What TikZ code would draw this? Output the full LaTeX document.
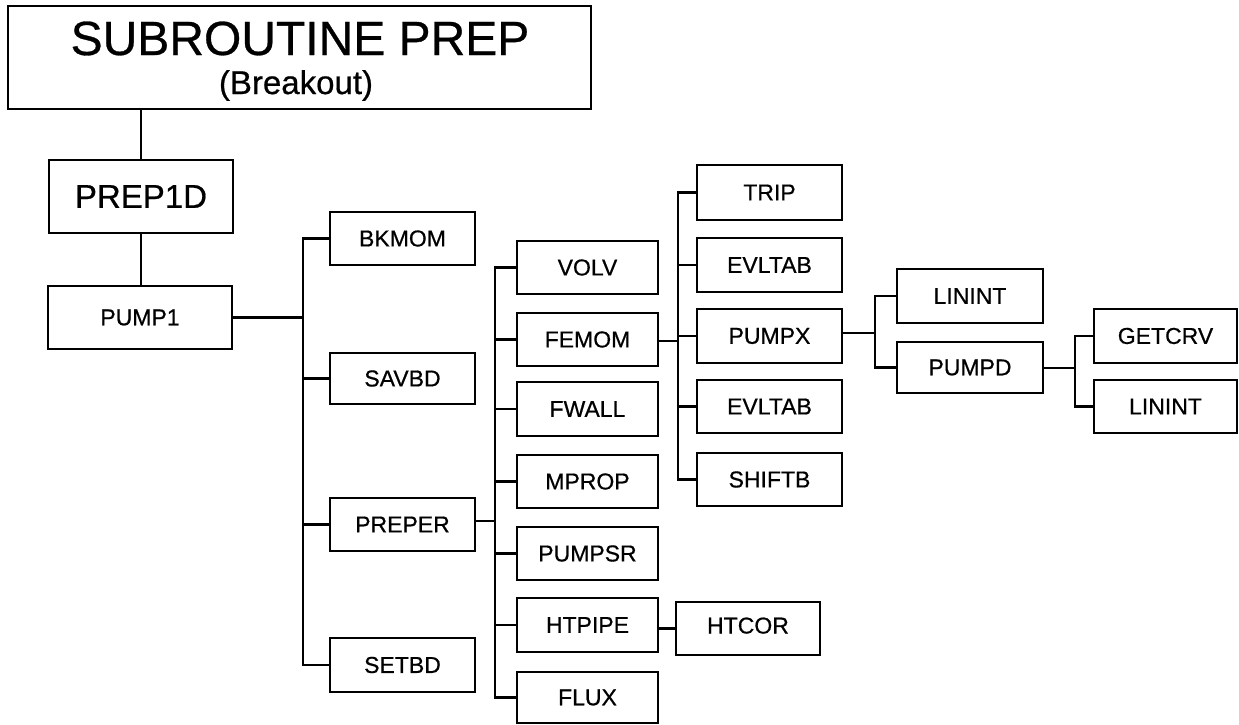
\documentclass[tikz,border=0pt]{standalone}
\usepackage{fontspec}
\setmainfont{Liberation Sans}[FakeBold=0.6]
\begin{document}
\begin{tikzpicture}[x=1pt,y=-1pt,
  box/.style={draw=black, line width=2.3pt, rectangle, inner sep=0pt, font=\fontsize{23}{26}\selectfont},
  conn/.style={draw=black, line width=2.3pt}]
\useasboundingbox[fill=white] (0,0) rectangle (1239,724);
\node[box, minimum width=583pt, minimum height=103pt] (title) at (299.5,57.5) {};
\node[anchor=base, inner sep=0pt, font=\fontsize{48}{50}\selectfont] (t1) at (300,55) {SUBROUTINE PREP};
\node[anchor=base, inner sep=0pt, font=\fontsize{33}{36}\selectfont] (t2) at (296,94) {(Breakout)};
\node[box, minimum width=184pt, minimum height=73pt, font=\fontsize{33}{36}\selectfont] (prep1d) at (141,196.5) {PREP1D};
\node[box, minimum width=184pt, minimum height=63pt] (pump1) at (140,317.5) {PUMP1};
% level 2
\node[box, minimum width=145pt, minimum height=53pt] (bkmom) at (402.5,238.5) {BKMOM};
\node[box, minimum width=145pt, minimum height=51pt] (savbd) at (402.5,378.5) {SAVBD};
\node[box, minimum width=145pt, minimum height=53pt] (preper) at (402.5,524.5) {PREPER};
\node[box, minimum width=145pt, minimum height=54pt] (setbd) at (402.5,665) {SETBD};
% level 3
\node[box, minimum width=141pt, minimum height=53pt] (volv) at (587.5,267.5) {VOLV};
\node[box, minimum width=141pt, minimum height=53pt] (femom) at (587.5,339.5) {FEMOM};
\node[box, minimum width=141pt, minimum height=54pt] (fwall) at (587.5,409) {FWALL};
\node[box, minimum width=141pt, minimum height=53pt] (mprop) at (587.5,481.5) {MPROP};
\node[box, minimum width=141pt, minimum height=53pt] (pumpsr) at (587.5,553.5) {PUMPSR};
\node[box, minimum width=141pt, minimum height=54pt] (htpipe) at (587.5,625) {HTPIPE};
\node[box, minimum width=141pt, minimum height=51pt] (flux) at (587.5,697.5) {FLUX};
\node[box, minimum width=144pt, minimum height=53pt] (htcor) at (748,628.5) {\raisebox{6pt}{HTCOR}};
% level 4
\node[box, minimum width=145pt, minimum height=55pt] (trip) at (769.5,192.5) {TRIP};
\node[box, minimum width=145pt, minimum height=54pt] (evltab1) at (769.5,265) {EVLTAB};
\node[box, minimum width=145pt, minimum height=54pt] (pumpx) at (769.5,336) {PUMPX};
\node[box, minimum width=145pt, minimum height=53pt] (evltab2) at (769.5,406.5) {EVLTAB};
\node[box, minimum width=145pt, minimum height=53pt] (shiftb) at (769.5,479.5) {SHIFTB};
% level 5
\node[box, minimum width=146pt, minimum height=54pt] (linint1) at (970,296) {LININT};
\node[box, minimum width=146pt, minimum height=51pt] (pumpd) at (970,367.5) {PUMPD};
% level 6
\node[box, minimum width=143pt, minimum height=54pt] (getcrv) at (1165.5,336) {GETCRV};
\node[box, minimum width=143pt, minimum height=53pt] (linint2) at (1165.5,406.5) {LININT};
% connectors
\draw[conn] (prep1d.north |- title.south) -- (prep1d.north);
\draw[conn] (prep1d.south) -- (prep1d.south |- pump1.north);
\coordinate (b1) at (303,317.5);
\draw[conn] (pump1.east) -- (b1);
\foreach \c in {bkmom,savbd,preper,setbd} \draw[conn] (b1) |- (\c.west);
\coordinate (b2) at (495,521);
\draw[conn] (preper.east |- b2) -- (b2);
\foreach \c in {volv,femom,fwall,mprop,pumpsr,htpipe,flux} \draw[conn] (b2) |- (\c.west);
\draw[conn] (htpipe.east |- htcor.west) -- (htcor.west);
\coordinate (b3) at (678,341);
\draw[conn] (femom.east |- b3) -- (b3);
\foreach \c in {trip,evltab1,pumpx,evltab2,shiftb} \draw[conn] (b3) |- (\c.west);
\coordinate (b4) at (875,333);
\draw[conn] (pumpx.east |- b4) -- (b4);
\foreach \c in {linint1,pumpd} \draw[conn] (b4) |- (\c.west);
\coordinate (b5) at (1075,368);
\draw[conn] (pumpd.east |- b5) -- (b5);
\foreach \c in {getcrv,linint2} \draw[conn] (b5) |- (\c.west);
\end{tikzpicture}
\end{document}
